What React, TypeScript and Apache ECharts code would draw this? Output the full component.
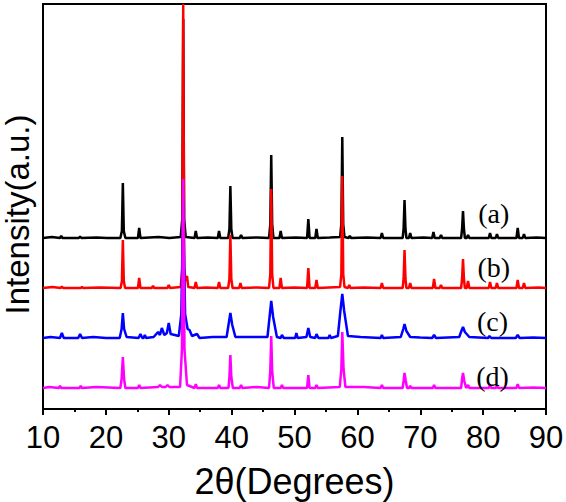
import React, { useEffect, useRef } from "react";
import * as echarts from "echarts";

// 2θ (degrees) vs intensity (a.u., vertically offset patterns)
const patternA: [number, number][] = [
  [10, 171], [11.4, 172], [12.7, 171], [12.9, 173], [13.1, 171], [15.7, 171], [15.9, 172.5], [16.1, 171],
  [18.5, 171.5], [20.2, 171], [22.3, 171], [22.55, 178], [22.7, 226], [22.85, 178], [23.1, 171],
  [25.1, 171], [25.3, 181], [25.5, 171], [28.4, 172], [30.1, 171], [31.9, 172], [32.15, 190], [32.3, 390],
  [32.45, 190], [32.7, 172], [34.1, 171], [34.3, 178], [34.5, 171], [36.2, 171.5], [37.8, 171], [38.0, 178],
  [38.2, 171], [39.45, 171], [39.65, 180], [39.8, 223], [39.95, 180], [40.15, 171], [41.3, 171], [41.5, 174],
  [41.7, 171], [44.0, 171.5], [45.95, 171], [46.15, 185], [46.3, 254], [46.45, 185], [46.65, 171], [47.6, 171],
  [47.8, 178], [48.0, 171], [50.2, 171.5], [52.0, 171], [52.2, 190], [52.4, 171], [53.3, 171], [53.5, 180],
  [53.7, 171], [55.6, 171.5], [57.25, 172], [57.45, 185], [57.6, 272], [57.75, 185], [57.95, 172], [58.6, 171],
  [58.8, 173], [59.0, 171], [61.5, 171.5], [63.7, 171], [63.9, 176], [64.1, 171], [67.2, 171], [67.35, 180],
  [67.5, 209], [67.65, 180], [67.8, 171], [68.2, 171], [68.4, 176], [68.6, 171], [70.5, 171.5], [71.9, 171],
  [72.1, 177], [72.3, 171], [73.1, 171], [73.3, 174], [73.5, 171], [76.5, 171], [76.65, 180], [76.8, 198],
  [76.95, 180], [77.1, 171], [77.4, 171], [77.6, 174], [77.8, 171], [80.9, 171], [81.1, 176], [81.3, 171],
  [82.0, 171], [82.2, 175], [82.4, 171], [85.3, 171], [85.5, 181], [85.7, 171], [86.3, 171], [86.5, 175],
  [86.7, 171], [88.5, 171.5], [90, 171],
];

const patternB: [number, number][] = [
  [10, 121], [11.5, 122], [12.8, 121], [13.0, 122.5], [13.2, 121], [16.0, 121], [16.2, 122], [16.4, 121],
  [19.0, 121.5], [22.35, 121], [22.55, 128], [22.7, 169], [22.85, 128], [23.05, 121], [25.1, 121], [25.3, 131],
  [25.5, 121], [27.3, 121], [27.5, 123], [27.7, 121], [29.8, 121], [30.0, 124], [30.2, 121], [31.9, 122],
  [32.15, 140], [32.3, 405], [32.45, 140], [32.7, 128], [32.9, 133], [33.1, 122], [34.1, 121], [34.3, 127],
  [34.5, 121], [36.0, 121.5], [37.8, 121], [38.0, 127], [38.2, 121], [39.45, 121], [39.65, 130], [39.8, 174],
  [39.95, 130], [40.15, 121], [41.2, 121], [41.4, 126], [41.6, 121], [44.0, 121.5], [45.95, 121], [46.15, 135],
  [46.3, 220], [46.45, 135], [46.65, 121], [47.6, 121], [47.8, 131], [48.0, 121], [50.0, 121.5], [52.0, 121],
  [52.2, 141], [52.4, 121], [53.3, 121], [53.5, 129], [53.7, 121], [55.5, 121.5], [57.25, 122], [57.45, 135],
  [57.6, 233], [57.75, 135], [57.95, 122], [58.5, 121], [58.7, 124], [58.9, 121], [61.0, 121.5], [63.7, 121],
  [63.9, 126], [64.1, 121], [67.2, 121], [67.35, 130], [67.5, 159], [67.65, 130], [67.8, 121], [68.2, 121],
  [68.4, 126], [68.6, 121], [72.0, 121], [72.2, 130], [72.4, 121], [73.1, 121], [73.3, 124], [73.5, 121],
  [76.5, 121], [76.65, 130], [76.8, 150], [76.95, 130], [77.1, 121], [77.4, 121], [77.6, 128], [77.8, 121],
  [80.9, 121], [81.1, 127], [81.3, 121], [82.0, 121], [82.2, 126], [82.4, 121], [85.3, 121], [85.5, 129],
  [85.7, 121], [86.3, 121], [86.5, 126], [86.7, 121], [88.8, 121.5], [90, 121],
];

const patternC: [number, number][] = [
  [10, 71], [11.2, 72], [12.7, 71], [13.0, 76], [13.3, 71], [15.6, 71], [15.9, 75], [16.2, 71], [18.0, 72],
  [20.0, 71], [22.2, 71], [22.5, 80], [22.7, 96], [22.9, 80], [23.3, 72], [25.2, 71], [25.5, 75], [25.8, 71],
  [26.0, 71], [26.2, 74], [26.4, 71], [27.6, 72], [28.3, 77], [28.6, 74], [28.9, 81], [29.3, 74], [29.7, 76],
  [30.0, 86], [30.3, 75], [31.6, 73], [32.0, 95], [32.3, 209], [32.6, 95], [33.0, 80], [33.3, 79], [33.7, 73],
  [34.5, 75], [34.9, 71], [37.0, 72], [39.2, 72], [39.6, 88], [39.8, 96], [40.1, 84], [40.6, 72], [43.0, 72],
  [45.7, 72], [46.1, 96], [46.3, 108], [46.6, 92], [47.2, 72], [47.8, 71], [48.0, 74], [48.3, 71], [50.1, 71],
  [50.3, 76], [50.5, 71], [51.9, 72], [52.2, 81], [52.5, 72], [53.3, 71], [53.5, 75], [53.8, 71], [55.4, 71],
  [55.6, 74], [55.8, 71], [56.9, 73], [57.3, 98], [57.6, 115], [57.9, 98], [58.5, 73], [60.5, 72], [63.7, 71],
  [63.9, 74], [64.1, 71], [66.9, 72], [67.3, 80], [67.5, 85], [67.8, 78], [68.4, 72], [70.0, 71.5], [71.9, 71],
  [72.2, 74], [72.5, 71], [76.2, 72], [76.6, 79], [76.8, 82], [77.1, 77], [77.8, 72], [80.8, 71], [81.0, 73],
  [81.3, 71], [85.2, 71], [85.5, 74], [85.8, 71], [88.0, 71.5], [90, 71],
];

const patternD: [number, number][] = [
  [10, 21], [11.0, 22], [12.5, 21], [12.7, 23], [12.9, 21], [15.8, 21], [16.0, 23], [16.2, 21], [18.5, 22],
  [22.3, 21], [22.5, 30], [22.7, 52], [22.9, 30], [23.1, 21], [25.1, 21], [25.3, 24], [25.5, 21], [28.3, 22],
  [28.6, 24], [28.9, 22], [29.5, 22], [29.8, 24], [30.1, 22], [31.8, 22], [32.1, 60], [32.3, 230], [32.5, 60],
  [32.9, 24], [34.1, 21], [34.3, 25], [34.5, 21], [37.8, 21], [38.0, 24], [38.2, 21], [39.5, 21], [39.65, 32],
  [39.8, 54], [39.95, 32], [40.2, 21], [41.3, 21], [41.5, 24], [41.7, 21], [44.0, 22], [45.95, 21], [46.15, 38],
  [46.3, 73], [46.45, 38], [46.7, 21], [47.8, 21], [48.0, 24], [48.2, 21], [52.0, 21], [52.2, 34], [52.4, 21],
  [53.3, 21], [53.5, 24], [53.7, 21], [57.2, 22], [57.45, 40], [57.6, 77], [57.8, 40], [58.1, 22], [61.0, 22],
  [63.7, 21], [63.9, 24], [64.1, 21], [67.2, 21], [67.35, 28], [67.5, 36], [67.7, 28], [67.9, 21], [68.2, 21],
  [68.4, 23], [68.6, 21], [72.0, 21], [72.2, 24], [72.4, 21], [76.5, 21], [76.65, 30], [76.8, 36], [77.0, 28],
  [77.3, 21], [77.4, 21], [77.6, 24], [77.8, 21], [80.9, 21], [81.1, 24], [81.3, 21], [82.0, 21], [82.2, 23],
  [82.4, 21], [85.3, 21], [85.5, 25], [85.7, 21], [88.0, 21.5], [90, 21],
];

const seriesNames = ["(a)", "(b)", "(c)", "(d)"];
const seriesColors = ["#000000", "#ff0000", "#0000ff", "#ff00ff"];
const seriesData = [patternA, patternB, patternC, patternD];
// label anchor (2θ, intensity) for each curve tag
const tagPositions: [number, number][] = [
  [81.7, 196],
  [81.7, 142],
  [81.5, 88],
  [81.5, 33],
];

export default function App() {
  const ref = useRef<HTMLDivElement>(null);
  useEffect(() => {
    document.body.style.margin = "0";
    if (!ref.current) return;
    const chart = echarts.init(ref.current, undefined, { renderer: "svg" });
    chart.setOption({
      animation: false,
      grid: {
        left: 43,
        right: 20,
        top: 4,
        bottom: 93,
        containLabel: false,
        outerBoundsMode: "none",
        show: true,
        borderColor: "#000",
        borderWidth: 2,
      },
      xAxis: {
        type: "value",
        min: 10,
        max: 90,
        interval: 10,
        name: "2θ(Degrees)",
        nameLocation: "middle",
        nameGap: 54,
        nameTextStyle: { fontFamily: "Liberation Sans", fontSize: 36, color: "#000" },
        axisLine: { show: true, lineStyle: { color: "#000", width: 2 } },
        axisTick: { show: true, inside: false, length: 6, lineStyle: { color: "#000", width: 2 } },
        minorTick: { show: true, splitNumber: 2, length: 3, lineStyle: { color: "#000", width: 2 } },
        axisLabel: { fontFamily: "Liberation Sans", fontSize: 31, color: "#000", margin: 13 },
        splitLine: { show: false },
      },
      yAxis: {
        type: "value",
        min: 0,
        max: 405,
        name: "Intensity(a.u.)",
        nameLocation: "middle",
        nameGap: 9,
        nameTextStyle: {
          fontFamily: "Liberation Sans",
          fontSize: 33,
          lineHeight: 34,
          color: "#000",
          padding: [0, 16, 0, 0],
        },
        axisLine: { show: true, lineStyle: { color: "#000", width: 2 } },
        axisTick: { show: false },
        axisLabel: { show: false },
        splitLine: { show: false },
      },
      series: seriesData.map((d, i) => ({
        type: "line",
        name: seriesNames[i],
        data: d,
        showSymbol: false,
        symbol: "none",
        clip: true,
        lineStyle: { color: seriesColors[i], width: 2.5 },
        markPoint: {
          symbol: "circle",
          symbolSize: 0,
          data: [{ coord: tagPositions[i], value: seriesNames[i] }],
          label: {
            show: true,
            formatter: seriesNames[i],
            position: "inside",
            fontFamily: "Liberation Serif",
            fontSize: 28,
            color: "#000",
          },
        },
      })),
    });
    return () => chart.dispose();
  }, []);
  return <div ref={ref} style={{ width: 566, height: 502 }} />;
}
